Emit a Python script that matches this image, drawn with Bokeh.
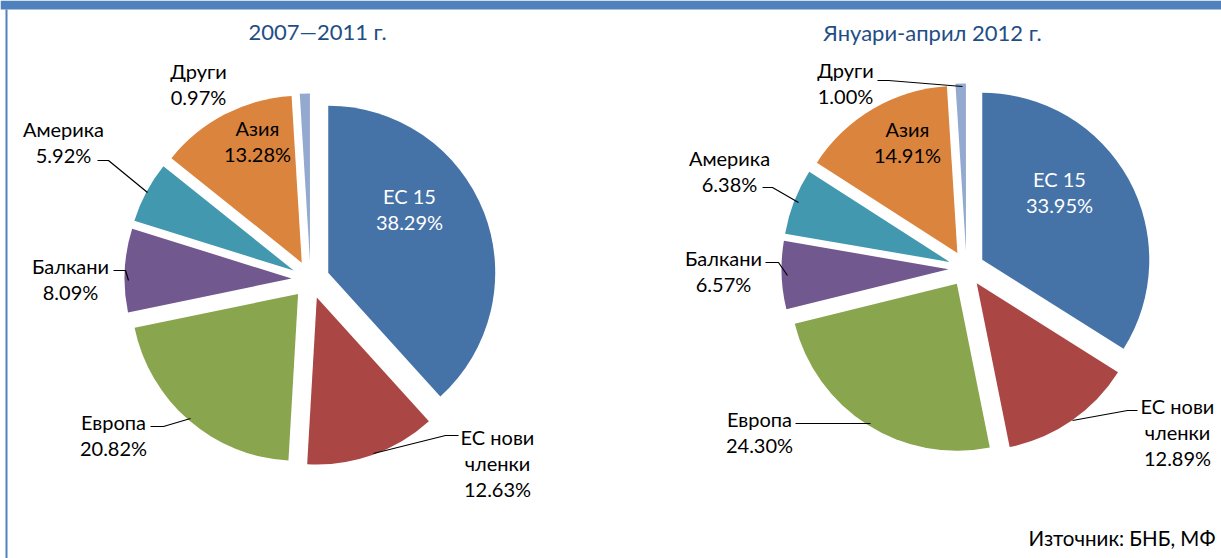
import math
from bokeh.plotting import figure
from bokeh.models import Range1d, ColumnDataSource
from bokeh.core.properties import value
from bokeh.embed import file_html
from bokeh.resources import INLINE

# ---------------- data ----------------
categories = ["ЕС 15", "ЕС нови членки", "Европа", "Балкани", "Америка", "Азия", "Други"]
share_2007_2011 = [38.29, 12.63, 20.82, 8.09, 5.92, 13.28, 0.97]
share_2012_jan_apr = [33.95, 12.89, 24.30, 6.57, 6.38, 14.91, 1.00]
titles = ["2007—2011 г.", "Януари-април 2012 г."]
source_note = "Източник: БНБ, МФ"

# ---------------- styles / layout ----------------
W, H = 1221, 558
colors = ["#4572A7", "#AA4643", "#89A54E", "#71588F", "#4198AF", "#DB843D", "#93A9CF"]
label_colors = ["white", "black", "black", "black", "black", "black", "black"]
FONT = "Lato"
FS = "20px"
LINE_H = 26

pies = [
    dict(values=share_2007_2011, center=(310, 279), radius=167, explode=19, title_pos=(317, 31),
         label_pos=[(409, 195), (497, 436), (113, 421), (70, 265), (63, 128), (257, 127), (198, 70)],
         leaders=[None,
                  [(458, 435), (445, 435), (373, 453)],
                  [(150, 426), (163, 426), (190, 418)],
                  [(113, 270), (125, 270), (128, 280)],
                  [(97, 160), (108, 160), (147, 192)],
                  None, None]),
    dict(values=share_2012_jan_apr, center=(966, 268), radius=167, explode=18, title_pos=(932, 32),
         label_pos=[(1059, 178), (1177, 405), (759, 418), (723, 257), (729, 157), (907, 128), (845, 69)],
         leaders=[None,
                  [(1137, 410), (1127, 410), (1072, 420)],
                  [(795, 423), (870, 423)],
                  [(765, 262), (778, 262), (787, 275)],
                  [(762, 187), (772, 187), (798, 202)],
                  None,
                  [(877, 80), (888, 80), (962, 86)]]),
]


def sy(y):
    return H - y


p = figure(width=W, height=H, x_range=Range1d(0, W), y_range=Range1d(0, H),
           output_backend="svg", toolbar_location=None, min_border=0,
           x_axis_location=None, y_axis_location=None, outline_line_color=None,
           background_fill_color="white", border_fill_color="white")
p.grid.visible = False

# frame decoration: top band and left rule
p.quad(left=[0], right=[W], top=[sy(0)], bottom=[sy(9)], color="#4F81BD", line_color=None)
p.quad(left=[5], right=[7], top=[sy(9)], bottom=[sy(H)], color="#4F81BD", line_color=None)

for k, pie in enumerate(pies):
    vals = pie["values"]
    total = sum(vals)
    cx, cy = pie["center"][0], sy(pie["center"][1])
    xs, ys, st, en = [], [], [], []
    cum = 0.0
    for v in vals:
        a_start = math.pi / 2 - 2 * math.pi * (cum + v) / total
        a_end = math.pi / 2 - 2 * math.pi * cum / total
        mid = (a_start + a_end) / 2
        xs.append(cx + pie["explode"] * math.cos(mid))
        ys.append(cy + pie["explode"] * math.sin(mid))
        st.append(a_start)
        en.append(a_end)
        cum += v
    src = ColumnDataSource(dict(x=xs, y=ys, start=st, end=en, color=colors))
    p.wedge(x="x", y="y", radius=pie["radius"], start_angle="start", end_angle="end",
            fill_color="color", line_color=None, source=src)

    # title
    tx, ty = pie["title_pos"]
    p.text(x=[tx], y=[sy(ty)], text=[titles[k]], text_font=value(FONT), text_font_size="22px",
           text_color="#1F4E85", text_align="center", text_baseline="middle")

    # leaders
    for ld in pie["leaders"]:
        if ld:
            p.line(x=[pt[0] for pt in ld], y=[sy(pt[1]) for pt in ld], line_color="black", line_width=1.2)

    # labels
    for i, cat in enumerate(categories):
        name_lines = ["ЕС нови", "членки"] if cat == "ЕС нови членки" else [cat]
        lines = name_lines + [f"{vals[i]:.2f}%"]
        lx, ly = pie["label_pos"][i]
        p.text(x=[lx] * len(lines), y=[sy(ly + j * LINE_H) for j in range(len(lines))], text=lines,
               text_font=value(FONT), text_font_size=FS, text_color=label_colors[i],
               text_align="center", text_baseline="middle")

p.text(x=[1028], y=[sy(537)], text=[source_note], text_font=value(FONT), text_font_size="20.5px",
       text_color="black", text_align="left", text_baseline="middle")

open("out.html", "w").write(file_html(p, INLINE))
